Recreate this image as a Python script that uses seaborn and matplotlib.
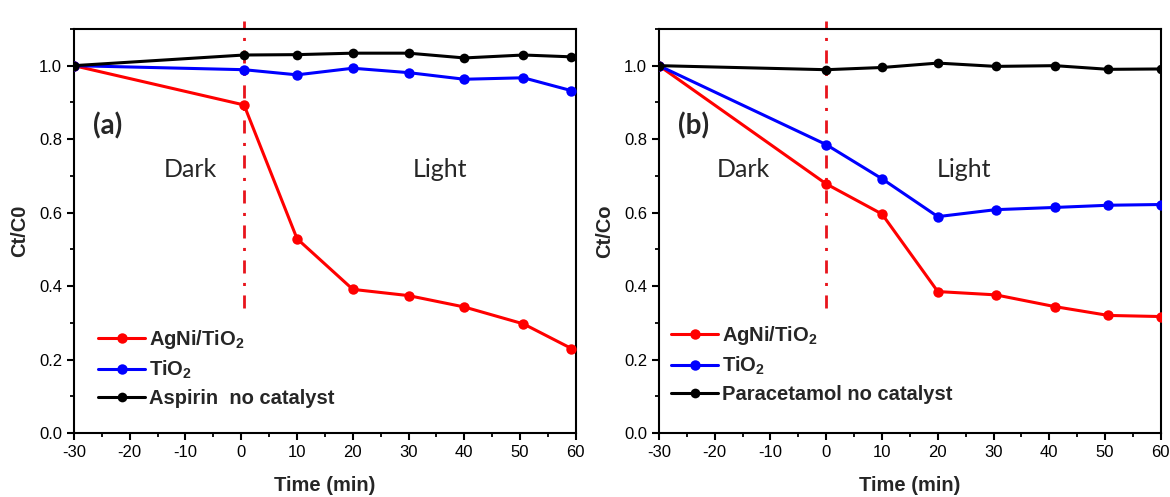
import matplotlib
matplotlib.use("Agg")
import matplotlib.pyplot as plt
from matplotlib.ticker import MultipleLocator
import seaborn as sns

# ---- data -------------------------------------------------------------
time_a = [-30, 0.5, 10, 20, 30, 40, 50.6, 59.2]
agni_a = [1.000, 0.893, 0.529, 0.391, 0.374, 0.343, 0.297, 0.230]
tio2_a = [1.000, 0.989, 0.975, 0.993, 0.981, 0.963, 0.967, 0.932]
blank_a = [1.000, 1.029, 1.030, 1.034, 1.034, 1.021, 1.029, 1.024]

time_b = [-30, 0, 10, 20, 30.4, 41, 50.6, 60]
agni_b = [1.000, 0.678, 0.596, 0.385, 0.376, 0.344, 0.320, 0.317]
tio2_b = [1.000, 0.785, 0.692, 0.589, 0.608, 0.614, 0.620, 0.622]
blank_b = [1.000, 0.989, 0.995, 1.007, 0.998, 1.000, 0.990, 0.991]

series_labels_a = ["AgNi/TiO$_2$", "TiO$_2$", "Aspirin  no catalyst"]
series_labels_b = ["AgNi/TiO$_2$", "TiO$_2$", "Paracetamol no catalyst"]
colors = ["#ff0000", "#0000ff", "#000000"]

# time at which the lamp is switched on, per panel
light_on = [0.5, 0.0]

# ---- style ------------------------------------------------------------
sns.set_style("ticks")
plt.rcParams.update({
    "font.family": ["Liberation Sans", "DejaVu Sans"],
    "axes.unicode_minus": False,
    "mathtext.fontset": "custom",
    "mathtext.rm": "Liberation Sans:bold",
    "mathtext.it": "Liberation Sans:bold",
    "mathtext.bf": "Liberation Sans:bold",
    "mathtext.default": "rm",
    "lines.scale_dashes": False,
    "axes.linewidth": 1.5,
    "xtick.major.width": 1.5,
    "ytick.major.width": 1.5,
    "xtick.minor.width": 1.3,
    "ytick.minor.width": 1.3,
    "xtick.major.size": 5,
    "ytick.major.size": 5,
    "xtick.minor.size": 2.6,
    "ytick.minor.size": 2.6,
    "xtick.direction": "out",
    "ytick.direction": "out",
    "xtick.color": "black",
    "ytick.color": "black",
    "axes.edgecolor": "black",
})

fig = plt.figure(figsize=(11.7, 4.97), dpi=100)
ax_a = fig.add_axes([0.0632, 0.1288, 0.429, 0.813])
ax_b = fig.add_axes([0.5632, 0.1288, 0.429, 0.813])

panels = [
    (ax_a, time_a, [agni_a, tio2_a, blank_a], series_labels_a, "Ct/C0", "(a)",
     (-9.2, 0.716), (35.6, 0.716), (0.048, 0.062)),
    (ax_b, time_b, [agni_b, tio2_b, blank_b], series_labels_b, "Ct/Co", "(b)",
     (-14.9, 0.716), (24.7, 0.716), (0.024, 0.072)),
]

for i, (ax, t, ys, labels, ylab, tag, dark_xy, light_xy, leg_xy) in enumerate(panels):
    handles = []
    for y, lab, col in zip(ys, labels, colors):
        ms = 7.5 if col != "#000000" else 7.0
        sns.lineplot(x=t, y=y, ax=ax, color=col, marker="o", markersize=ms,
                     markeredgewidth=0, linewidth=2.2, label=lab, legend=False,
                     zorder=3)
        handles.append(ax.get_lines()[-1])

    # dark / light boundary
    ax.axvline(light_on[i], ymin=0.31, ymax=1.02, color="#e8141c", linewidth=2.0,
               linestyle=(0, (9.4, 6.8, 2.2, 6.8)), clip_on=False, zorder=2)

    ax.set_xlim(-30, 60)
    ax.set_ylim(0, 1.1)
    ax.xaxis.set_major_locator(MultipleLocator(10))
    ax.xaxis.set_minor_locator(MultipleLocator(5))
    ax.yaxis.set_major_locator(MultipleLocator(0.2))
    ax.yaxis.set_minor_locator(MultipleLocator(0.1))
    ax.tick_params(axis="both", which="major", labelsize=12, pad=3.5,
                   top=False, right=False)
    ax.tick_params(axis="both", which="minor", top=False, right=False)
    ax.set_yticks([0.0, 0.2, 0.4, 0.6, 0.8, 1.0])
    ax.set_yticklabels(["0.0", "0.2", "0.4", "0.6", "0.8", "1.0"])
    for s in ax.spines.values():
        s.set_visible(True)
        s.set_linewidth(1.5)
        s.set_color("black")

    ax.set_xlabel("Time (min)", fontsize=14.5, fontweight="bold", labelpad=12)
    ax.set_ylabel(ylab, fontsize=14.5, fontweight="bold", labelpad=7)

    ax.text(-26.5, 0.836, tag, fontsize=20, fontweight="bold",
            family=["Lato", "DejaVu Sans"], va="center", ha="left")
    ax.text(*dark_xy, "Dark", fontsize=18, family=["Lato", "DejaVu Sans"],
            va="center", ha="center")
    ax.text(*light_xy, "Light", fontsize=18, family=["Lato", "DejaVu Sans"],
            va="center", ha="center")

    ax.legend(handles=handles, labels=labels, loc="lower left",
              bbox_to_anchor=leg_xy, frameon=False, borderpad=0,
              borderaxespad=0, handlelength=2.35, handletextpad=0.2,
              labelspacing=0.38,
              prop={"family": "Liberation Sans", "weight": "bold", "size": 14.5})

fig.savefig("out.png", dpi=100)
